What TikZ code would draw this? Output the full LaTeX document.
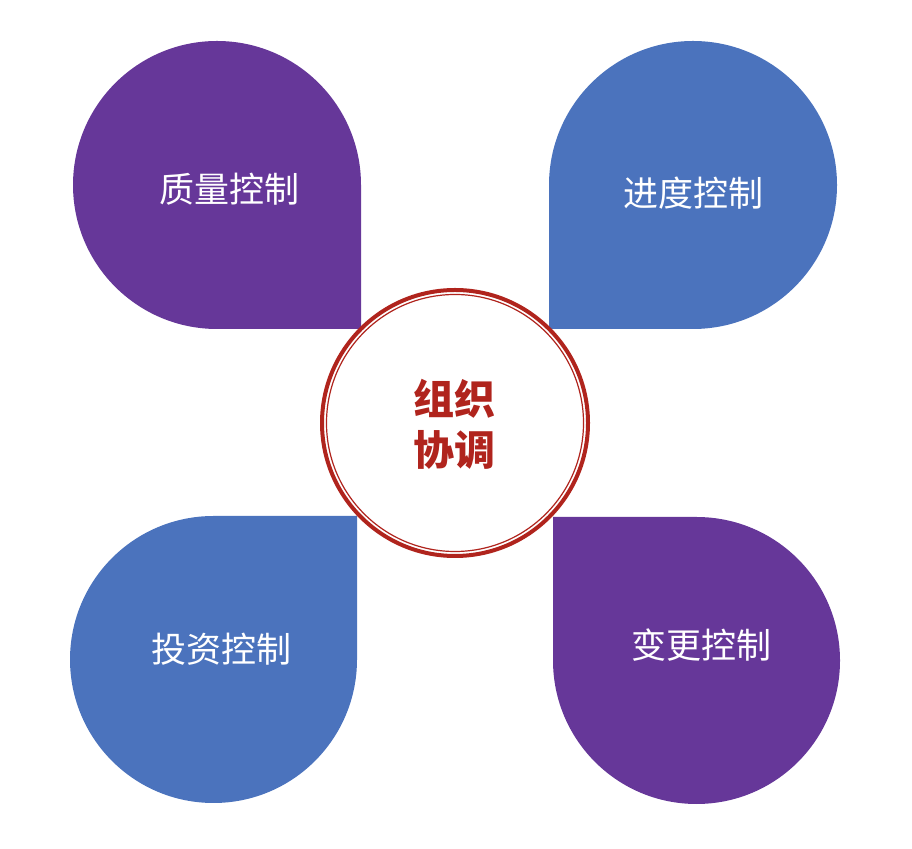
\documentclass[tikz,border=0pt]{standalone}
\usepackage{fontspec}
\newfontfamily\cjk{Noto Sans CJK SC}
\definecolor{petalpurple}{HTML}{663799}
\definecolor{petalblue}{HTML}{4B73BD}
\definecolor{ringred}{HTML}{B0241D}
\tikzset{
  petaltext/.style={text=white,font=\cjk\fontsize{35}{40}\selectfont,inner sep=0pt},
  hubtext/.style={text=ringred,font=\cjk\bfseries\fontsize{41}{51}\selectfont,align=center,inner sep=0pt}
}

\begin{document}
\begin{tikzpicture}[x=1pt,y=1pt]
\useasboundingbox (0,0) rectangle (912,848);

\fill[petalpurple] (361,519) -- (361,663) arc[start angle=0,end angle=270,radius=144] -- cycle;
\fill[petalblue] (549,519) -- (693,519) arc[start angle=-90,end angle=180,radius=144] -- cycle;
\fill[petalblue] (357,332) -- (213.5,332) arc[start angle=90,end angle=360,radius=143.5] -- cycle;
\fill[petalpurple] (553,331) -- (553,187.5) arc[start angle=180,end angle=450,radius=143.5] -- cycle;

\draw[ringred,fill=white,line width=4pt] (455,425) circle[radius=133];
\draw[ringred,line width=1.2pt] (455,425) circle[radius=128.5];

\node[petaltext] (quality) at (229,659) {质量控制};
\node[petaltext] (schedule) at (693,655) {进度控制};
\node[petaltext] (cost) at (221,199) {投资控制};
\node[petaltext] (change) at (701,203) {变更控制};
\node[hubtext] (hub) at (454,423.5) {组织\\协调};
\end{tikzpicture}
\end{document}
